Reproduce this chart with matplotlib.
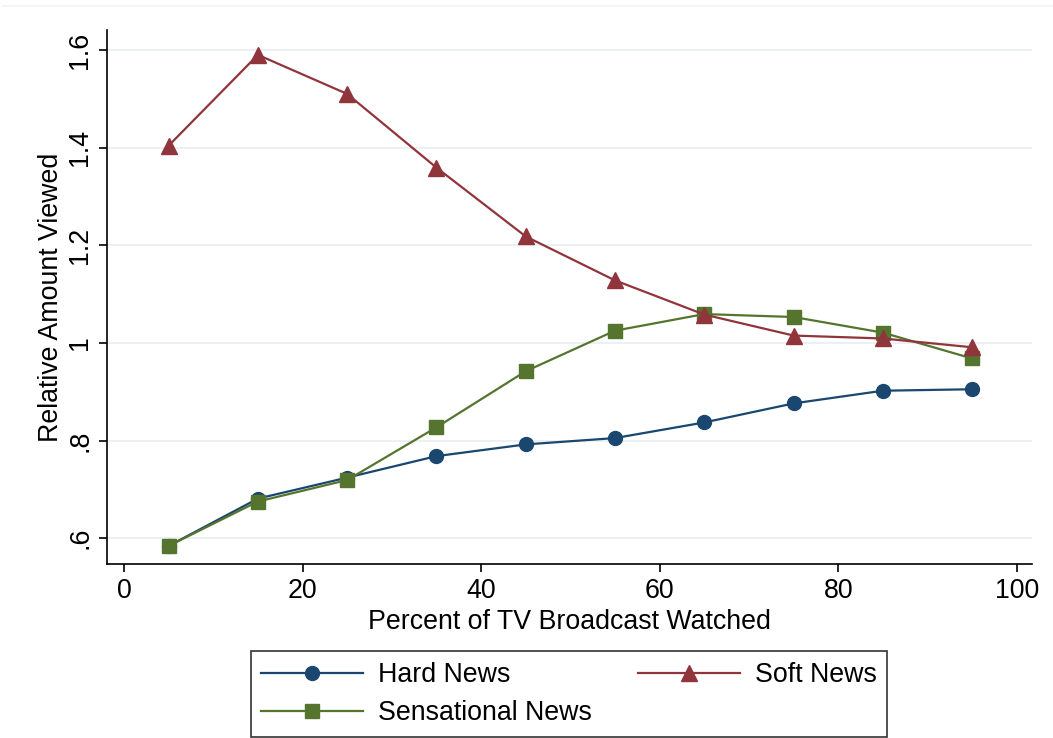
import matplotlib
matplotlib.use('Agg')
import matplotlib.pyplot as plt
from matplotlib.lines import Line2D

plt.rcParams['font.family'] = ['Liberation Sans', 'DejaVu Sans']

# data
pct_watched = [5, 15, 25, 35, 45, 55, 65, 75, 85, 95]
hard_news = [0.584, 0.681, 0.724, 0.768, 0.792, 0.805, 0.837, 0.876, 0.902, 0.905]
soft_news = [1.404, 1.590, 1.510, 1.359, 1.218, 1.128, 1.058, 1.015, 1.009, 0.991]
sensational_news = [0.584, 0.675, 0.719, 0.827, 0.942, 1.025, 1.059, 1.053, 1.021, 0.968]

y_ticks = [0.6, 0.8, 1.0, 1.2, 1.4, 1.6]
y_tick_labels = ['.6', '.8', '1', '1.2', '1.4', '1.6']
x_ticks = [0, 20, 40, 60, 80, 100]

navy = '#1a476f'
maroon = '#90353b'
green = '#55752f'

W, H = 1053, 738
fs = 19.3
fig = plt.figure(figsize=(W / 100, H / 100), dpi=100)
ax = fig.add_axes([107 / W, 1 - 564 / H, (1032 - 107) / W, (564 - 30) / H])

ax.plot(pct_watched, hard_news, color=navy, lw=1.6, marker='o', ms=10, label='Hard News', zorder=3)
ax.plot(pct_watched, sensational_news, color=green, lw=1.6, marker='s', ms=10, label='Sensational News', zorder=3)
ax.plot(pct_watched, soft_news, color=maroon, lw=1.6, marker='^', ms=11, label='Soft News', zorder=3)

ax.set_xlim(-1.9, 101.7)
ax.set_ylim(0.547, 1.6 + 20 / 488)
ax.set_xticks(x_ticks)
ax.set_yticks(y_ticks)
ax.set_yticklabels(y_tick_labels, rotation=90, va='center')
ax.tick_params(labelsize=fs, length=6, width=1.2, color='black', pad=4)
ax.grid(axis='y', color='#e8eef2', lw=1.2)
ax.set_axisbelow(True)
for side in ['top', 'right']:
    ax.spines[side].set_visible(False)
for side in ['left', 'bottom']:
    ax.spines[side].set_linewidth(1.2)

ax.set_xlabel('Percent of TV Broadcast Watched', fontsize=fs, labelpad=4)
ax.set_ylabel('Relative Amount Viewed', fontsize=fs, labelpad=2)

# faint line across the top of the graph region
fig.add_artist(Line2D([3 / W, 1], [1 - 6 / H, 1 - 6 / H], color='#eef3f5', lw=1.2))

leg = fig.legend(loc='center', bbox_to_anchor=(569 / W, 1 - 694 / H),
                 ncol=2, fontsize=fs, frameon=True, fancybox=False,
                 edgecolor='black', handlelength=3.8, columnspacing=1.7,
                 handletextpad=0.56, borderpad=0.4, labelspacing=0.45)
leg.get_frame().set_linewidth(1.2)

fig.savefig('out.png', dpi=100, facecolor='white')
